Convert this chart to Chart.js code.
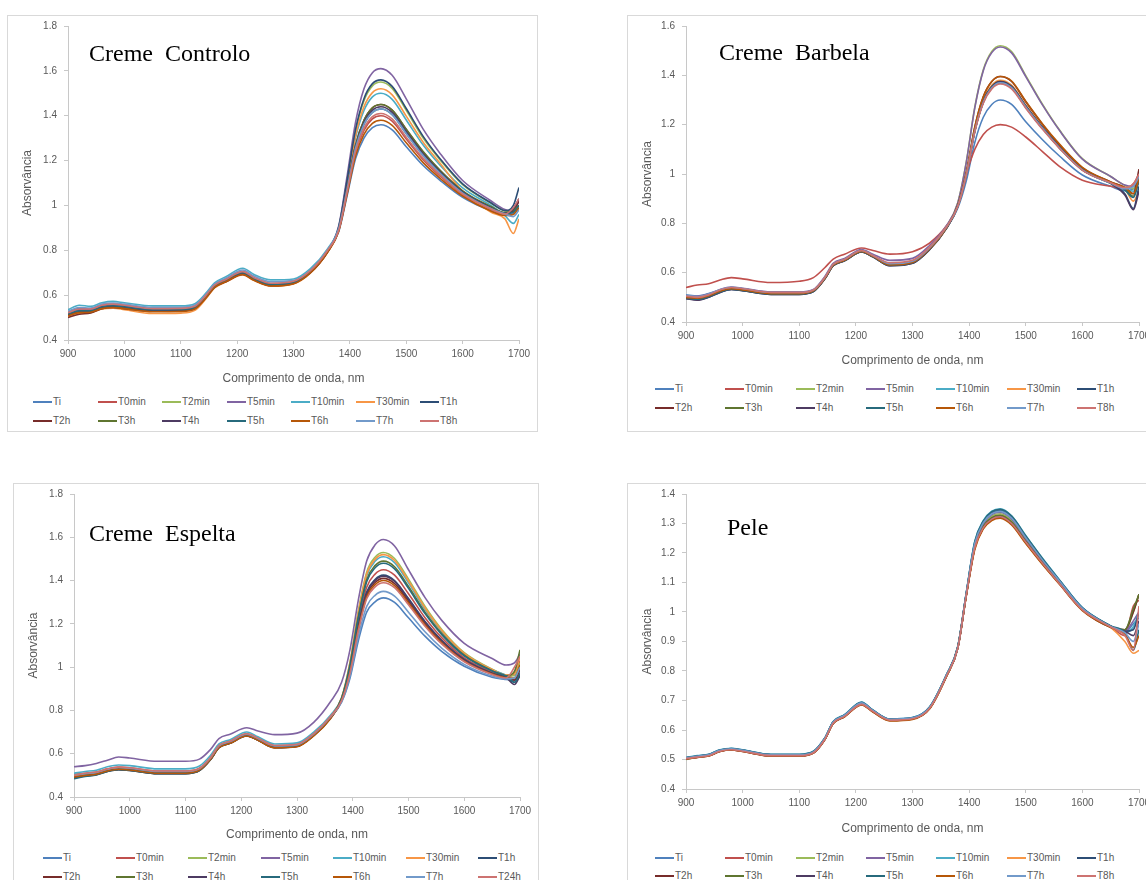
<!DOCTYPE html>
<html>
<head>
<meta charset="utf-8">
<script src="https://cdn.jsdelivr.net/npm/chart.js@4.4.1/dist/chart.umd.min.js"></script>
<style>
  html, body { margin: 0; padding: 0; background: #fff; width: 1146px; height: 880px; overflow: hidden; }
  .box { position: absolute; border: 1px solid #d9d9d9; box-sizing: border-box; }
  canvas { position: absolute; }
  .tag { position: absolute; font-family: "Liberation Serif", "Times New Roman", serif; font-size: 24px; line-height: 24px; white-space: pre; color: #000; }
  .leg { position: absolute; font-family: "Liberation Sans", Arial, sans-serif; font-size: 10px; line-height: 12px; color: #595959; white-space: nowrap; }
  .leg i { display: inline-block; width: 19px; height: 2px; vertical-align: middle; margin-right: 1px; margin-top: -1px; }
</style>
</head>
<body>
<script>
// wavelengths (nm) shared by every spectrum
const wl = [900, 920, 940, 960, 980, 1000, 1050, 1100, 1125, 1145, 1160, 1180, 1210, 1230, 1260, 1300, 1330, 1360,
            1380, 1395, 1410, 1425, 1440, 1455, 1475, 1500, 1530, 1560, 1600, 1650, 1675, 1690, 1700];

const seriesNames = ['Ti', 'T0min', 'T2min', 'T5min', 'T10min', 'T30min', 'T1h', 'T2h', 'T3h', 'T4h', 'T5h', 'T6h', 'T7h', 'T8h'];
const seriesNamesEspelta = ['Ti', 'T0min', 'T2min', 'T5min', 'T10min', 'T30min', 'T1h', 'T2h', 'T3h', 'T4h', 'T5h', 'T6h', 'T7h', 'T24h'];
const seriesColors = ['#4F81BD', '#C0504D', '#9BBB59', '#8064A2', '#4BACC6', '#F79646', '#2C4D75',
                      '#772C2A', '#5F7530', '#4D3B62', '#276A7C', '#B65708', '#729ACA', '#CD7371'];

// Creme Controlo, one row per series (same order as seriesNames)
const controlo = [
  [.525,.54,.538,.555,.56,.556,.54,.54,.55,.60,.648,.672,.705,.678,.652,.66,.71,.80, .882,1.042,1.208,1.30,1.347,1.36,1.337,1.262,1.178,1.112,1.036,.976,.957,.965,.99],
  [.52,.535,.535,.552,.556,.552,.538,.538,.548,.598,.642,.668,.70,.674,.649,.659,.707,.797, .886,1.056,1.234,1.335,1.386,1.40,1.376,1.296,1.204,1.131,1.048,.983,.961,.985,1.02],
  [.515,.528,.53,.548,.553,.548,.534,.535,.545,.593,.638,.663,.695,.67,.645,.655,.703,.793, .90,1.108,1.33,1.467,1.533,1.55,1.522,1.424,1.30,1.203,1.093,1.01,.976,.97,1.0],
  [.52,.533,.533,.55,.555,.55,.536,.537,.547,.595,.64,.665,.698,.672,.647,.657,.705,.795, .907,1.13,1.37,1.52,1.592,1.61,1.58,1.475,1.34,1.232,1.111,1.021,.982,.975,1.02],
  [.535,.555,.55,.566,.572,.566,.552,.552,.562,.61,.655,.682,.72,.692,.668,.672,.718,.805, .90,1.09,1.30,1.423,1.484,1.50,1.473,1.381,1.269,1.179,1.078,1.0,.955,.92,.96],
  [.505,.52,.522,.538,.542,.535,.518,.52,.532,.585,.632,.658,.69,.665,.64,.65,.698,.79, .89,1.09,1.31,1.44,1.503,1.52,1.493,1.398,1.282,1.188,1.064,.97,.94,.875,.94],
  [.51,.525,.527,.545,.55,.545,.532,.533,.543,.592,.637,.662,.695,.669,.644,.655,.703,.793, .902,1.112,1.338,1.476,1.543,1.56,1.531,1.432,1.308,1.208,1.096,1.012,.977,1.0,1.08],
  [.50,.515,.52,.54,.545,.54,.528,.53,.54,.59,.635,.66,.692,.667,.642,.652,.70,.79, .891,1.074,1.267,1.379,1.435,1.45,1.425,1.339,1.237,1.155,1.063,.992,.966,.975,1.02],
  [.51,.525,.526,.545,.55,.545,.532,.533,.543,.592,.638,.663,.696,.67,.645,.655,.703,.795, .891,1.074,1.267,1.379,1.435,1.45,1.425,1.34,1.24,1.157,1.065,.995,.968,.98,1.0],
  [.512,.527,.528,.546,.551,.546,.533,.534,.544,.593,.639,.664,.697,.671,.646,.656,.704,.795, .89,1.07,1.26,1.37,1.425,1.44,1.415,1.33,1.23,1.15,1.06,.99,.965,.985,1.03],
  [.515,.53,.53,.548,.553,.548,.535,.536,.546,.595,.64,.666,.70,.673,.648,.657,.705,.796, .889,1.066,1.253,1.361,1.415,1.43,1.405,1.321,1.223,1.145,1.057,.988,.964,.97,1.0],
  [.508,.522,.524,.54,.545,.54,.526,.527,.538,.588,.634,.66,.692,.666,.641,.651,.70,.79, .884,1.049,1.221,1.317,1.366,1.38,1.357,1.279,1.191,1.121,1.042,.975,.955,.96,.99],
  [.528,.545,.543,.56,.565,.56,.546,.546,.556,.605,.65,.676,.712,.685,.66,.666,.712,.80, .895,1.07,1.255,1.362,1.415,1.43,1.405,1.32,1.222,1.143,1.055,.986,.962,.95,.98],
  [.522,.538,.538,.555,.56,.555,.54,.541,.55,.60,.645,.67,.705,.678,.653,.662,.709,.798, .887,1.06,1.24,1.344,1.396,1.41,1.386,1.304,1.21,1.136,1.051,.985,.962,.99,1.03]
];

// Creme Barbela
const barbela = [
  [.51,.505,.515,.53,.54,.535,.52,.52,.53,.58,.63,.652,.685,.67,.635,.645,.70,.782, .862,.972,1.128,1.23,1.282,1.30,1.282,1.212,1.138,1.072,.996,.95,.932,.94,.98],
  [.54,.55,.555,.57,.58,.575,.56,.565,.58,.62,.655,.675,.70,.69,.675,.685,.72,.79, .87,1.0,1.10,1.16,1.19,1.20,1.19,1.15,1.09,1.03,.975,.95,.94,.96,1.0],
  [.50,.50,.51,.528,.538,.533,.518,.518,.528,.578,.632,.652,.688,.668,.632,.642,.698,.785, .884,1.049,1.271,1.423,1.497,1.52,1.496,1.399,1.281,1.177,1.062,.99,.954,.94,.99],
  [.505,.505,.513,.532,.542,.537,.522,.522,.532,.584,.638,.658,.694,.675,.65,.658,.71,.79, .883,1.047,1.268,1.419,1.492,1.515,1.491,1.395,1.278,1.175,1.06,.99,.955,.95,1.0],
  [.505,.50,.51,.528,.538,.533,.518,.518,.528,.578,.632,.652,.688,.668,.633,.643,.698,.785, .869,.997,1.174,1.291,1.35,1.37,1.35,1.272,1.184,1.105,1.017,.963,.94,.93,.97],
  [.50,.495,.505,.525,.535,.53,.515,.515,.526,.576,.63,.65,.686,.666,.63,.64,.695,.782, .87,1.0,1.18,1.30,1.36,1.38,1.36,1.28,1.19,1.11,1.02,.965,.94,.89,.93],
  [.495,.49,.50,.52,.532,.527,.512,.512,.523,.574,.628,.648,.684,.664,.628,.638,.693,.78, .868,.996,1.173,1.29,1.35,1.37,1.35,1.27,1.183,1.105,1.017,.962,.92,.86,.95],
  [.50,.497,.507,.526,.536,.531,.516,.516,.527,.577,.631,.651,.687,.667,.632,.642,.697,.783, .872,1.005,1.19,1.313,1.375,1.395,1.375,1.293,1.20,1.117,1.025,.968,.945,.92,1.02],
  [.502,.498,.508,.527,.537,.532,.517,.517,.527,.577,.631,.651,.687,.667,.632,.642,.697,.783, .87,.998,1.177,1.296,1.355,1.375,1.355,1.276,1.187,1.108,1.018,.964,.94,.91,.99],
  [.495,.488,.50,.52,.532,.527,.512,.512,.523,.574,.628,.648,.684,.664,.628,.638,.693,.78, .87,.998,1.177,1.296,1.355,1.375,1.355,1.276,1.187,1.108,1.018,.962,.915,.855,.93],
  [.498,.492,.503,.522,.533,.528,.513,.513,.524,.575,.629,.649,.685,.665,.63,.64,.695,.781, .869,.997,1.174,1.291,1.35,1.37,1.35,1.272,1.184,1.105,1.017,.962,.935,.905,.97],
  [.50,.496,.506,.525,.535,.53,.515,.515,.526,.576,.63,.65,.686,.666,.631,.641,.696,.782, .872,1.005,1.19,1.313,1.375,1.395,1.377,1.295,1.202,1.12,1.027,.968,.945,.92,.98],
  [.508,.503,.513,.531,.541,.536,.52,.52,.53,.58,.634,.654,.69,.67,.636,.646,.70,.785, .869,.997,1.174,1.291,1.35,1.37,1.35,1.272,1.184,1.105,1.017,.963,.94,.95,.99],
  [.505,.50,.51,.53,.54,.535,.52,.52,.53,.58,.634,.654,.69,.67,.64,.65,.703,.786, .868,.995,1.17,1.287,1.345,1.365,1.345,1.267,1.18,1.103,1.015,.965,.945,.96,1.0]
];

// Creme Espelta (last series is T24h)
const espelta = [
  [.495,.505,.51,.525,.532,.53,.516,.516,.53,.58,.635,.655,.688,.668,.633,.638,.688,.768, .838,.948,1.122,1.254,1.302,1.32,1.299,1.228,1.142,1.072,1.004,.953,.943,.94,.98],
  [.505,.51,.515,.53,.538,.535,.52,.52,.533,.583,.638,.658,.692,.672,.636,.642,.692,.772, .851,.994,1.207,1.369,1.43,1.45,1.425,1.339,1.227,1.135,1.043,.977,.956,.97,1.03],
  [.50,.507,.512,.527,.535,.532,.517,.517,.53,.58,.635,.655,.69,.67,.635,.64,.69,.77, .859,1.022,1.259,1.439,1.508,1.53,1.502,1.407,1.279,1.173,1.067,.991,.964,.96,1.02],
  [.54,.545,.555,.57,.585,.58,.565,.565,.575,.62,.67,.69,.72,.705,.688,.695,.745,.84, .93,1.08,1.31,1.49,1.565,1.59,1.56,1.45,1.32,1.215,1.11,1.04,1.01,1.02,1.06],
  [.51,.518,.524,.54,.548,.545,.53,.53,.543,.593,.645,.665,.70,.678,.645,.65,.70,.778, .857,1.015,1.246,1.422,1.489,1.51,1.483,1.39,1.266,1.164,1.061,.988,.962,.94,.98],
  [.498,.505,.51,.525,.533,.53,.515,.515,.528,.578,.632,.652,.686,.666,.632,.637,.687,.767, .858,1.018,1.252,1.43,1.498,1.52,1.493,1.398,1.272,1.168,1.064,.989,.963,.97,1.05],
  [.49,.50,.505,.52,.528,.525,.51,.51,.524,.575,.63,.65,.684,.664,.63,.635,.685,.765, .849,.985,1.19,1.347,1.405,1.425,1.40,1.317,1.21,1.123,1.036,.972,.953,.93,.97],
  [.488,.497,.503,.518,.526,.523,.508,.508,.522,.573,.628,.648,.682,.662,.628,.634,.684,.764, .847,.98,1.18,1.334,1.391,1.41,1.386,1.305,1.20,1.116,1.031,.97,.952,.94,.99],
  [.495,.503,.508,.523,.531,.528,.513,.513,.526,.577,.632,.652,.686,.666,.632,.637,.688,.768, .855,1.008,1.233,1.404,1.469,1.49,1.464,1.373,1.253,1.154,1.055,.984,.96,.98,1.08],
  [.49,.498,.504,.519,.527,.524,.509,.509,.523,.574,.629,.649,.683,.663,.629,.635,.685,.765, .848,.983,1.187,1.342,1.40,1.42,1.396,1.313,1.207,1.12,1.034,.971,.952,.92,.96],
  [.485,.495,.502,.518,.526,.523,.508,.508,.522,.573,.628,.648,.683,.663,.629,.635,.685,.765, .854,1.004,1.226,1.395,1.459,1.48,1.454,1.364,1.246,1.149,1.052,.982,.959,.93,.97],
  [.492,.50,.505,.52,.528,.525,.51,.51,.524,.574,.628,.648,.682,.662,.627,.632,.682,.762, .846,.976,1.174,1.325,1.381,1.40,1.376,1.296,1.194,1.111,1.028,.968,.951,.95,1.01],
  [.50,.508,.513,.528,.536,.533,.518,.518,.531,.581,.636,.656,.69,.67,.636,.641,.691,.77, .841,.959,1.142,1.281,1.332,1.35,1.328,1.254,1.162,1.087,1.013,.959,.946,.95,1.0],
  [.50,.51,.515,.53,.538,.535,.52,.52,.533,.583,.638,.658,.692,.672,.638,.643,.693,.772, .845,.973,1.168,1.316,1.371,1.39,1.367,1.288,1.188,1.106,1.025,.966,.95,1.0,1.05]
];

// Pele
const pele = [
  [.505,.512,.517,.532,.537,.532,.517,.517,.527,.572,.628,.651,.693,.667,.637,.642,.677,.787, .882,1.064,1.233,1.306,1.337,1.345,1.322,1.255,1.178,1.106,1.014,.952,.93,.96,.98],
  [.503,.51,.516,.53,.535,.53,.515,.515,.525,.57,.624,.647,.688,.664,.634,.639,.674,.784, .879,1.058,1.222,1.291,1.32,1.328,1.305,1.241,1.167,1.098,1.009,.95,.92,1.02,1.04],
  [.50,.508,.514,.529,.534,.529,.514,.514,.524,.569,.624,.647,.689,.664,.634,.639,.674,.784, .88,1.06,1.225,1.295,1.325,1.333,1.31,1.245,1.17,1.10,1.01,.95,.935,1.0,1.06],
  [.505,.51,.515,.53,.535,.53,.515,.515,.525,.57,.625,.648,.69,.665,.635,.64,.675,.785, .881,1.062,1.228,1.299,1.33,1.338,1.315,1.249,1.173,1.102,1.011,.951,.935,.97,1.0],
  [.507,.513,.518,.533,.538,.533,.518,.518,.528,.573,.629,.652,.695,.668,.637,.642,.678,.788, .884,1.066,1.24,1.31,1.342,1.35,1.326,1.259,1.181,1.108,1.015,.953,.93,.95,1.0],
  [.503,.508,.513,.528,.533,.528,.513,.513,.523,.568,.623,.646,.687,.663,.633,.638,.673,.783, .878,1.057,1.218,1.288,1.317,1.325,1.302,1.238,1.165,1.096,1.008,.948,.90,.86,.87],
  [.506,.511,.516,.531,.536,.531,.516,.516,.526,.571,.627,.65,.692,.666,.636,.641,.676,.786, .882,1.063,1.232,1.304,1.335,1.343,1.32,1.253,1.176,1.105,1.013,.952,.935,.94,1.0],
  [.502,.507,.512,.527,.532,.527,.512,.512,.522,.567,.622,.645,.686,.662,.632,.637,.672,.782, .878,1.056,1.217,1.284,1.313,1.321,1.298,1.235,1.162,1.094,1.006,.948,.94,1.0,1.06],
  [.504,.509,.514,.529,.534,.529,.514,.514,.524,.569,.624,.647,.688,.664,.634,.639,.674,.784, .879,1.058,1.222,1.291,1.32,1.328,1.305,1.241,1.167,1.098,1.009,.95,.94,1.01,1.06],
  [.503,.508,.513,.528,.533,.528,.513,.513,.523,.568,.623,.646,.687,.663,.633,.638,.673,.783, .878,1.057,1.218,1.286,1.315,1.323,1.30,1.237,1.164,1.095,1.007,.949,.935,.92,.97],
  [.506,.512,.517,.532,.537,.532,.517,.517,.527,.572,.628,.651,.694,.667,.636,.641,.677,.787, .883,1.065,1.238,1.308,1.34,1.348,1.325,1.258,1.18,1.107,1.014,.953,.93,.87,.94],
  [.502,.507,.512,.527,.532,.527,.512,.512,.522,.567,.622,.645,.685,.661,.631,.636,.671,.781, .878,1.055,1.212,1.282,1.31,1.318,1.295,1.232,1.16,1.093,1.005,.947,.925,.88,.92],
  [.506,.511,.516,.531,.536,.531,.516,.516,.526,.571,.627,.65,.692,.666,.636,.641,.676,.786, .881,1.063,1.232,1.302,1.333,1.341,1.318,1.252,1.175,1.104,1.012,.951,.93,.90,.96],
  [.503,.508,.513,.528,.533,.528,.513,.513,.523,.568,.623,.646,.687,.663,.633,.638,.673,.783, .878,1.057,1.218,1.286,1.315,1.323,1.30,1.237,1.164,1.095,1.007,.949,.92,.87,1.02]
];

// layout of the four panels on the page
const panels = [
  { tag: 'Creme  Controlo', rows: controlo, names: seriesNames, yMax: 1.8, yStep: 0.2,
    box: [7, 15, 531, 417], canvas: [7, 15, 531, 373], plot: [61, 11, 512], xAxisH: 48,
    tagPos: [89, 41], legend: [33, 402, 64.5, 19] },
  { tag: 'Creme  Barbela', rows: barbela, names: seriesNames, yMax: 1.6, yStep: 0.2,
    box: [627, 15, 540, 417], canvas: [627, 15, 530, 355], plot: [59, 11, 512], xAxisH: 48,
    tagPos: [719, 40], legend: [655, 389, 70.3, 19] },
  { tag: 'Creme  Espelta', rows: espelta, names: seriesNamesEspelta, yMax: 1.8, yStep: 0.2,
    box: [13, 483, 526, 420], canvas: [13, 483, 525, 361], plot: [61, 11, 507], xAxisH: 47,
    tagPos: [89, 521], legend: [43, 858, 72.5, 19] },
  { tag: 'Pele', rows: pele, names: seriesNames, yMax: 1.4, yStep: 0.1,
    box: [627, 483, 540, 420], canvas: [627, 483, 530, 355], plot: [59, 11, 512], xAxisH: 49,
    tagPos: [727, 515], legend: [655, 858, 70.3, 18] }
];

Chart.defaults.font.family = '"Liberation Sans", Arial, sans-serif';
Chart.defaults.color = '#595959';

function place(el, x, y, w, h) {
  el.style.left = x + 'px';
  el.style.top = y + 'px';
  if (w != null) el.style.width = w + 'px';
  if (h != null) el.style.height = h + 'px';
}

panels.forEach(p => {
  const box = document.createElement('div');
  box.className = 'box';
  place(box, ...p.box);
  document.body.appendChild(box);

  const cv = document.createElement('canvas');
  cv.width = p.canvas[2];
  cv.height = p.canvas[3];
  place(cv, p.canvas[0], p.canvas[1], p.canvas[2], p.canvas[3]);
  document.body.appendChild(cv);

  const axisLine = '#c8c8c8';
  new Chart(cv, {
    type: 'line',
    data: {
      datasets: p.rows.map((vals, i) => ({
        label: p.names[i],
        data: wl.map((x, k) => ({ x, y: vals[k] })),
        borderColor: seriesColors[i],
        borderWidth: 1.6,
        pointRadius: 0,
        fill: false,
        cubicInterpolationMode: 'monotone',
        order: -i
      }))
    },
    options: {
      responsive: false,
      animation: false,
      events: [],
      layout: { padding: { left: 0, top: p.plot[1], right: p.canvas[2] - p.plot[2], bottom: 0 } },
      plugins: { legend: { display: false }, tooltip: { enabled: false } },
      scales: {
        x: {
          type: 'linear', min: 900, max: 1700,
          ticks: { stepSize: 100, padding: 4, maxRotation: 0, autoSkip: false, font: { size: 10 }, color: '#595959',
                   callback: v => String(v) },
          grid: { drawOnChartArea: false, drawTicks: true, tickLength: 4, color: axisLine },
          border: { color: axisLine },
          title: { display: true, text: 'Comprimento de onda, nm', font: { size: 12 }, color: '#595959', padding: { top: 0, bottom: 1.8 } },
          afterFit: s => { s.height = p.xAxisH; s.paddingLeft = 0; s.paddingRight = 0; }
        },
        y: {
          min: 0.4, max: p.yMax,
          ticks: { stepSize: p.yStep, padding: 7, font: { size: 10 }, color: '#595959',
                   callback: v => String(+v.toFixed(2)) },
          grid: { drawOnChartArea: false, drawTicks: true, tickLength: 4, color: axisLine },
          border: { color: axisLine },
          title: { display: true, text: 'Absorvância', font: { size: 12 }, color: '#595959', padding: { top: 13.8, bottom: 0 } },
          afterFit: s => { s.width = p.plot[0]; s.paddingTop = 0; s.paddingBottom = 0; }
        }
      }
    }
  });

  const tag = document.createElement('div');
  tag.className = 'tag';
  tag.textContent = p.tag;
  place(tag, p.tagPos[0], p.tagPos[1]);
  document.body.appendChild(tag);

  // Excel style legend: 7 columns, 2 rows
  const [x0, y0, dx, dy] = p.legend;
  p.names.forEach((name, i) => {
    const item = document.createElement('div');
    item.className = 'leg';
    const sw = document.createElement('i');
    sw.style.background = seriesColors[i];
    item.appendChild(sw);
    item.appendChild(document.createTextNode(name));
    place(item, Math.round(x0 + (i % 7) * dx), y0 + Math.floor(i / 7) * dy - 6);
    document.body.appendChild(item);
  });
});
</script>
</body>
</html>
